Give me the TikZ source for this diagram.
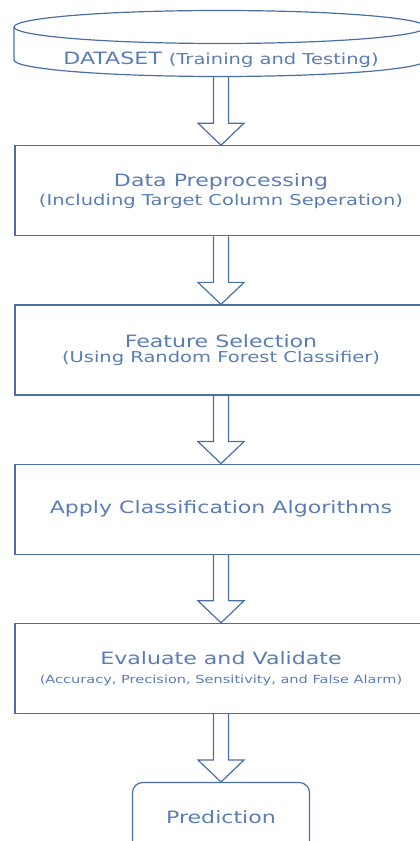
\documentclass[tikz,border=0pt]{standalone}
\usepackage{fontspec}
\usetikzlibrary{calc,positioning}
\newfontfamily\diafont[FakeStretch=1.3]{DejaVu Sans}
\definecolor{edgec}{HTML}{4A6FA5}
\definecolor{textc}{HTML}{5A7DB3}
\newcommand{\bigtxt}{\fontsize{17}{19}\selectfont}
\newcommand{\subtxt}{\fontsize{15}{17}\selectfont}
\newcommand{\smalltxt}{\fontsize{11.2}{13}\selectfont}
\tikzset{
  box/.style={draw=edgec,line width=1.2pt,minimum width=412pt,minimum height=90pt,align=center,text=textc,font=\diafont},
  pbox/.style={box,rounded corners=10pt,minimum width=177pt,minimum height=70pt},
  har/.style={draw=edgec,line width=1.2pt,line join=miter}
}
% hollow block arrow from one node down to the next
\newcommand{\hollowar}[2]{%
  \draw[har] ($(#1.south)+(-7.5pt,0)$) -- ($(#2.north)+(-7.5pt,22pt)$) -- ++(-15.5pt,0)
    -- (#2.north) -- ++(23pt,22pt) -- ++(-15.5pt,0) -- ($(#1.south)+(7.5pt,0)$);}

\begin{document}
\begin{tikzpicture}[x=1pt,y=1pt]
\useasboundingbox (0,0) rectangle (420,841);
\clip (0,0) rectangle (420,841);
% dataset drum
\node[font=\diafont,text=textc,minimum height=34pt,inner sep=0pt] (data) at (221,781)
  {\bigtxt DATASET {\subtxt (Training and Testing)}};
\draw[har] (220,814) ellipse [x radius=206pt, y radius=16.5pt];
\draw[har] (14,814) -- (14,781) arc[start angle=180,end angle=360,x radius=206pt,y radius=16.5pt] -- (426,814);
% steps
\node[box,below=68pt of data.south,anchor=north] (prep) at (data.south)
  {{\bigtxt Data Preprocessing}\\[3pt]{\subtxt (Including Target Column Seperation)}};
\node[box,below=68pt of prep] (feat)
  {{\bigtxt Feature Selection}\\[3pt]{\subtxt (Using Random Forest Classifier)}};
\node[box,below=68pt of feat] (algo) {\bigtxt Apply Classification Algorithms};
\node[box,below=68pt of algo] (eval)
  {{\bigtxt Evaluate and Validate}\\[7pt]{\smalltxt (Accuracy, Precision, Sensitivity, and False Alarm)}};
\node[pbox,below=68pt of eval] (pred) {\bigtxt Prediction};
% arrows
\hollowar{data}{prep}
\hollowar{prep}{feat}
\hollowar{feat}{algo}
\hollowar{algo}{eval}
\hollowar{eval}{pred}
\end{tikzpicture}
\end{document}
